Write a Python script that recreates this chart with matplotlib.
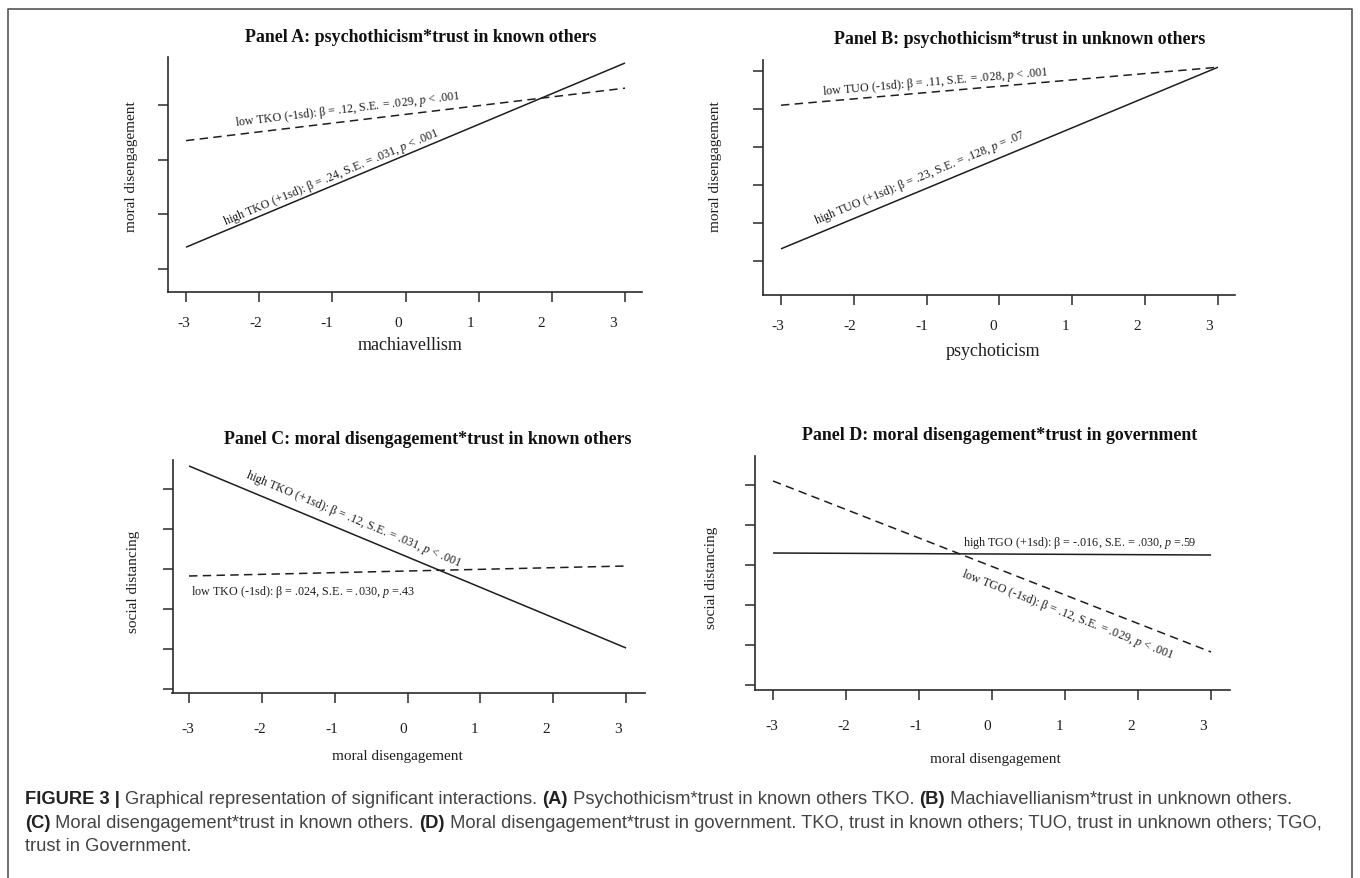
import numpy as np
import matplotlib
matplotlib.use("Agg")
import matplotlib.pyplot as plt
from matplotlib.lines import Line2D
from matplotlib.transforms import ScaledTranslation

plt.rcParams["font.family"] = ["Liberation Serif", "DejaVu Serif"]
plt.rcParams["mathtext.fontset"] = "custom"
plt.rcParams["mathtext.rm"] = "Liberation Serif"
plt.rcParams["mathtext.it"] = "Liberation Serif:italic"

W, H = 1360, 879
INK = "#1e1e1e"

# ---- data -------------------------------------------------------------
x_ends = [-3, 3]
x_ticks = [-3, -2, -1, 0, 1, 2, 3]
x_tick_labels = ["-3", "-2", "-1", "0", "1", "2", "3"]

# panel A: moral disengagement by machiavellism
a_high_tko = [1.40, 4.77]
a_low_tko = [3.35, 4.31]
a_yticks = [1, 2, 3, 4]

# panel B: moral disengagement by psychoticism
b_high_tuo = [1.32, 6.10]
b_low_tuo = [5.10, 6.10]
b_yticks = [1, 2, 3, 4, 5, 6]

# panel C: social distancing by moral disengagement
c_high_tko = [6.575, 2.025]
c_low_tko = [3.825, 4.075]
c_yticks = [1, 2, 3, 4, 5, 6]

# panel D: social distancing by moral disengagement
d_high_tgo = [4.30, 4.25]
d_low_tgo = [6.10, 1.825]
d_yticks = [1, 2, 3, 4, 5, 6]

titles = [
    "Panel A: psychothicism*trust in known others",
    "Panel B: psychothicism*trust in unknown others",
    "Panel C: moral disengagement*trust in known others",
    "Panel D: moral disengagement*trust in government",
]
xlabels = ["machiavellism", "psychoticism", "moral disengagement", "moral disengagement"]
ylabels = ["moral disengagement", "moral disengagement", "social distancing", "social distancing"]


def fx(x):
    return x / W


def fy(y):
    return 1 - y / H


fig = plt.figure(figsize=(W / 100, H / 100), dpi=100)
fig.patch.set_facecolor("white")

# frame round the figure (bottom edge is cut off in the original)
fig.add_artist(Line2D([fx(8), fx(8), fx(1352), fx(1352)], [0, fy(9.5), fy(9.5), 0],
                      transform=fig.transFigure, color="#555555", lw=1.2))


def make_panel(box, xlim, ylim, yticks, lab_pad, lab_shift):
    left, top, right, bottom = box
    ax = fig.add_axes([fx(left), fy(bottom), (right - left) / W, (bottom - top) / H])
    ax.set_xlim(*xlim)
    ax.set_ylim(*ylim)
    for s in ["top", "right"]:
        ax.spines[s].set_visible(False)
    for s in ["left", "bottom"]:
        ax.spines[s].set_color("#2a2a2a")
        ax.spines[s].set_linewidth(1.2)
    ax.set_xticks(x_ticks)
    ax.set_xticklabels(x_tick_labels, fontsize=11, color=INK)
    ax.set_yticks(yticks)
    ax.set_yticklabels([])
    ax.tick_params(axis="both", direction="out", length=7.5, width=1.1, color="#2a2a2a")
    ax.tick_params(axis="x", pad=lab_pad)
    # tick labels in the scan sit a little left of their ticks
    for i, lab in enumerate(ax.get_xticklabels()):
        dx = lab_shift[0] + (lab_shift[1] - lab_shift[0]) * i / 6
        lab.set_transform(lab.get_transform() + ScaledTranslation(dx / 100, 0, fig.dpi_scale_trans))
    ax.patch.set_alpha(0)
    return ax


def draw(ax, ys, dashed):
    ln, = ax.plot(x_ends, ys, color=INK, lw=1.1, solid_capstyle="butt")
    if dashed:
        ln.set_dashes((5.5, 3.5))
    return ln


def line_note(ax, ys, xpos, text, off_px, along=True, ha="center"):
    yv = np.interp(xpos, x_ends, ys)
    p0 = ax.transData.transform((x_ends[0], ys[0]))
    p1 = ax.transData.transform((x_ends[1], ys[1]))
    ang = np.degrees(np.arctan2(p1[1] - p0[1], p1[0] - p0[0])) if along else 0.0
    r = np.radians(ang)
    dx, dy = -np.sin(r) * off_px, np.cos(r) * off_px
    ax.annotate(text, (xpos, yv), xytext=(dx * 0.72, dy * 0.72), textcoords="offset points",
                rotation=ang, rotation_mode="anchor", ha=ha, va="center",
                fontsize=8.7, color=INK)


axA = make_panel((168, 58, 642, 293), (-3.246, 3.232), (0.58, 4.88), a_yticks, 10, (-2, -12))
axB = make_panel((763, 61, 1235, 296), (-3.247, 3.234), (0.105, 6.29), b_yticks, 10, (-3, -9))
axC = make_panel((172.5, 461, 645, 694), (-3.227, 3.26), (0.9, 6.725), c_yticks, 13.5, (-1, -8))
axD = make_panel((755, 457, 1230, 691), (-3.247, 3.26), (0.875, 6.725), d_yticks, 13.5, (-1, -8))

draw(axA, a_high_tko, False)
draw(axA, a_low_tko, True)
line_note(axA, a_low_tko, -0.77, "low TKO (-1sd): β = .12, S.E. = .029, $p$ < .001", 13)
line_note(axA, a_high_tko, -0.96, "high TKO (+1sd): β = .24, S.E. = .031, $p$ < .001", 9)

draw(axB, b_high_tuo, False)
draw(axB, b_low_tuo, True)
line_note(axB, b_low_tuo, -0.87, "low TUO (-1sd): β = .11, S.E. = .028, $p$ < .001", 11)
line_note(axB, b_high_tuo, -1.02, "high TUO (+1sd): β = .23, S.E. = .128, $p$ = .07", 13)

draw(axC, c_high_tko, False)
draw(axC, c_low_tko, True)
line_note(axC, c_high_tko, -0.82, "high TKO (+1sd): β = .12, S.E. = .031, $p$ < .001", 15)
line_note(axC, c_low_tko, -2.97, "low TKO (-1sd): β = .024, S.E. = .030, $p$ =.43", -15,
          along=False, ha="left")

draw(axD, d_high_tgo, False)
draw(axD, d_low_tgo, True)
line_note(axD, d_high_tgo, 1.2, "high TGO (+1sd): β = -.016, S.E. = .030, $p$ =.59", 12, along=False)
line_note(axD, d_low_tgo, 1.12, "low TGO (-1sd): β = .12, S.E. = .029, $p$ < .001", -16)

# titles and axis labels
title_pos = [(421, 37), (1020, 40), (428, 440), (1000, 435)]
xlab_pos = [(410, 345), (993, 352), (397, 757), (995, 760)]
xlab_size = [13, 13, 11, 11]
ylab_pos = [(131, 167), (715, 167), (134, 582), (711, 578)]
for t, (x, y) in zip(titles, title_pos):
    fig.text(fx(x), fy(y), t, ha="center", va="center", fontsize=12.9, fontweight="bold", color="#111111")
for t, (x, y), sz in zip(xlabels, xlab_pos, xlab_size):
    fig.text(fx(x), fy(y), t, ha="center", va="center", fontsize=sz, color=INK)
for t, (x, y) in zip(ylabels, ylab_pos):
    fig.text(fx(x), fy(y), t, ha="center", va="center", fontsize=11, color=INK, rotation=90)

# caption, mixing bold and regular pieces
caption = [
    [("FIGURE 3 | ", "bold"), ("Graphical representation of significant interactions. ", "normal"),
     ("(A)", "bold"), (" Psychothicism*trust in known others TKO. ", "normal"),
     ("(B)", "bold"), (" Machiavellianism*trust in unknown others.", "normal")],
    [("(C)", "bold"), (" Moral disengagement*trust in known others. ", "normal"),
     ("(D)", "bold"), (" Moral disengagement*trust in government. TKO, trust in known others; "
                       "TUO, trust in unknown others; TGO,", "normal")],
    [("trust in Government.", "normal")],
]
cap_y = [800, 824, 847]
renderer = fig.canvas.get_renderer()


def seg_width(s, weight, size):
    probe = fig.text(0, 0, s + "|", fontsize=size, fontweight=weight, family="Liberation Sans")
    bar = fig.text(0, 0, "|", fontsize=size, fontweight=weight, family="Liberation Sans")
    w = probe.get_window_extent(renderer).width - bar.get_window_extent(renderer).width
    probe.remove()
    bar.remove()
    return w


cap_size = 13.2
for line, y in zip(caption, cap_y):
    x = 25
    for s, weight in line:
        col = "#222222" if weight == "bold" else "#444444"
        fig.text(fx(x), fy(y), s, ha="left", va="center", fontsize=cap_size, fontweight=weight,
                 family="Liberation Sans", color=col)
        x += seg_width(s, weight, cap_size)

fig.savefig("out.png", dpi=100, facecolor="white")
